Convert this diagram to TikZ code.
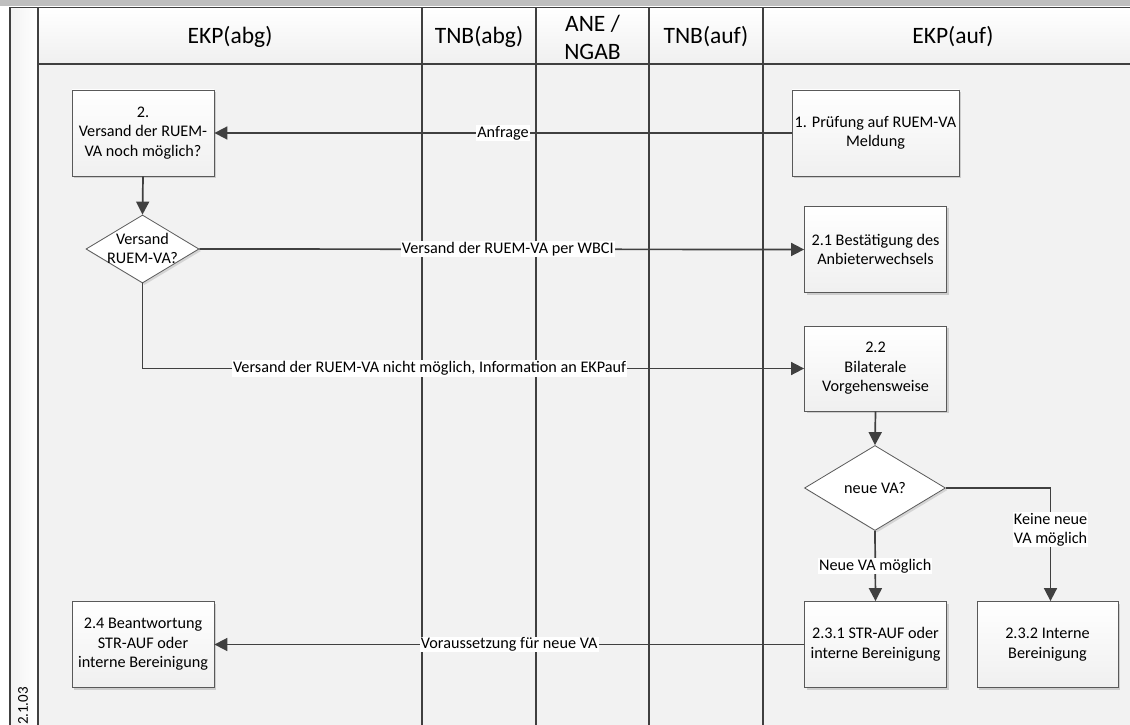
\documentclass[tikz,border=0pt]{standalone}
\usepackage{fontspec}
\setmainfont{Carlito}
\usetikzlibrary{shapes.geometric,arrows.meta,shadows}
\definecolor{lineC}{HTML}{404040}
\definecolor{bodyC}{HTML}{F2F2F2}
\definecolor{barC}{HTML}{BFBFBF}
\definecolor{boxline}{HTML}{595959}
\newcommand\bxfont{\fontsize{16.2bp}{19.5bp}\selectfont}
\newcommand\hdfont{\fontsize{23.5bp}{28bp}\selectfont}
\begin{document}
\begin{tikzpicture}[x=1bp,y=-1bp,
  procbox/.style={draw=boxline, line width=0.8bp, top color=white, bottom color=gray!12,
    minimum width=142bp, minimum height=86bp, align=center, font=\bxfont, inner sep=1bp,
    drop shadow={shadow xshift=2bp,shadow yshift=-2bp,fill=black,opacity=0.15}},
  decision/.style={diamond, draw=boxline, line width=0.8bp, fill=white, inner sep=0pt,
    drop shadow={shadow xshift=2bp,shadow yshift=-2bp,fill=black,opacity=0.12}},
  dtext/.style={align=center, font=\bxfont, inner sep=0pt},
  flow/.style={draw=lineC, line width=1.7bp, -{Triangle[length=13bp,width=13bp]}},
  elabel/.style={fill=white, inner sep=1bp, font=\bxfont, text=black},
  lane/.style={draw=lineC, line width=1.1bp},
  header/.style={font=\hdfont, align=center, inner sep=0pt}
]
\useasboundingbox (0,0) rectangle (1130,725);

% pool background
\fill[white] (0,0) rectangle (1130,725);
\fill[barC] (0,0) rectangle (1130,6);
\fill[bodyC] (38,64) rectangle (1130,725);
\shade[top color=white, bottom color=gray!12] (38,7.5) rectangle (1130,64);
\shade[left color=gray!10, right color=white] (10,7.5) rectangle (38,725);

% pool frame and lane separators
\draw[lane] (10,725) -- (10,7.5) -- (1130,7.5);
\draw[lane] (38,7.5) -- (38,725);
\draw[lane] (38,64) -- (1130,64);
\foreach \lx in {422,536,649,763} \draw[lane] (\lx,7.5) -- (\lx,725);

% lane headers
\node[header] (h1) at (230,37) {EKP(abg)};
\node[header] (h2) at (479,37) {TNB(abg)};
\node[header] (h3) at (592.5,37.5) {ANE /\\NGAB};
\node[header] (h4) at (706,37) {TNB(auf)};
\node[header] (h5) at (953,37) {EKP(auf)};
\node[rotate=90, font=\fontsize{15bp}{17bp}\selectfont, inner sep=0pt] (code) at (23,706) {2.1.03};

% process steps
\node[procbox] (b2) at (143,133) {2.\\Versand der RUEM-\\VA noch möglich?};
\node[procbox, minimum width=167bp] (b1) at (875.5,133) {1. Prüfung auf RUEM-VA\\Meldung};
\node[decision, minimum width=113bp, minimum height=68bp] (d1) at (142.5,249) {};
\node[dtext] (d1t) at (142.5,248.5) {Versand\\RUEM-VA?};
\node[procbox] (b21) at (875.5,249.5) {2.1 Bestätigung des\\Anbieterwechsels};
\node[procbox, minimum height=85bp] (b22) at (875.5,368.5) {2.2\\Bilaterale\\Vorgehensweise};
\node[decision, minimum width=141bp, minimum height=85bp] (d2) at (875,488) {};
\node[dtext] (d2t) at (875,488) {neue VA?};
\node[procbox] (b231) at (875.5,644.5) {2.3.1 STR-AUF oder\\interne Bereinigung};
\node[procbox, minimum width=141bp] (b232) at (1047.5,644.5) {2.3.2 Interne\\Bereinigung};
\node[procbox] (b24) at (143,644.5) {2.4 Beantwortung\\STR-AUF oder\\interne Bereinigung};

% message and sequence flows
\draw[flow] (b1.west) -- node[elabel] {Anfrage} (b2.east);
\draw[flow] (b2.south) -- (d1.north);
\draw[flow] (d1.east) -- node[elabel, pos=0.51] {Versand der RUEM-VA per WBCI} (b21.west);
\draw[flow] (d1.south) |- node[elabel, pos=0.717] {Versand der RUEM-VA nicht möglich, Information an EKPauf} (b22.west);
\draw[flow] (b22.south) -- (d2.north);
\draw[flow] (d2.south) -- node[elabel] {Neue VA möglich} (b231.north);
\draw[flow] (d2.east) -| node[elabel, pos=0.684, align=center] {Keine neue\\VA möglich} ([xshift=3bp]b232.north);
\draw[flow] (b231.west) -- node[elabel] {Voraussetzung für neue VA} (b24.east);
\end{tikzpicture}
\end{document}
